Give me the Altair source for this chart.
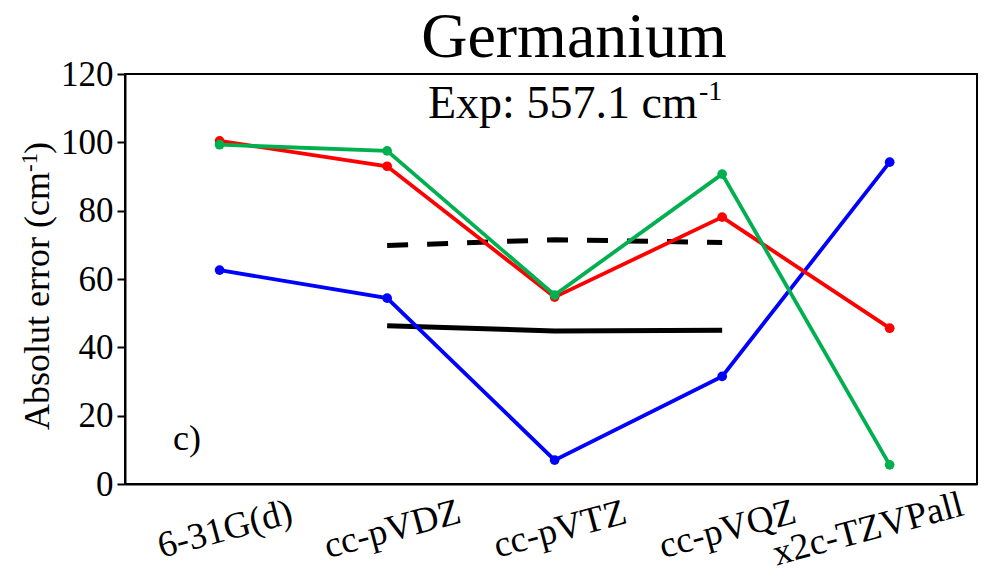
import altair as alt
import pandas as pd

categories = ["6-31G(d)", "cc-pVDZ", "cc-pVTZ", "cc-pVQZ", "x2c-TZVPall"]
red_vals = [100.4, 93.0, 54.7, 78.1, 45.6]
green_vals = [99.3, 97.5, 55.3, 90.7, 5.6]
blue_vals = [62.6, 54.4, 7.0, 31.5, 94.2]
dashed_vals = [None, 69.8, 71.5, 70.7, None]
solid_vals = [None, 46.3, 44.8, 45.0, None]
y_ticks = [0, 20, 40, 60, 80, 100, 120]

series_names = ["Blue", "Red", "Green"]
series_colors = ["#0000FF", "#FF0000", "#00B050"]

rows = []
for name, vals in zip(series_names, [blue_vals, red_vals, green_vals]):
    for c, v in zip(categories, vals):
        rows.append({"basis": c, "series": name, "error": v})
df = pd.DataFrame(rows)

ref_rows = []
for name, vals in [("dashed", dashed_vals), ("solid", solid_vals)]:
    for c, v in zip(categories, vals):
        if v is not None:
            ref_rows.append({"basis": c, "kind": name, "error": v})
ref_df = pd.DataFrame(ref_rows)

FONT = "Liberation Serif"

x_enc = alt.X(
    "basis:N",
    sort=categories,
    scale=alt.Scale(type="point", padding=0.543, align=0.52),
    axis=alt.Axis(
        title=None,
        ticks=False,
        labelAngle=345,
        labelAlign="center",
        labelBaseline="middle",
        labelPadding=45,
        labelFontSize=37,
        labelLimit=400,
        labelOffset={"condition": {"test": "datum.value == 'x2c-TZVPall'", "value": -22}, "value": 5},
        domainColor="black",
        domainWidth=2,
        labelColor="black",
    ),
)
y_enc = alt.Y(
    "error:Q",
    scale=alt.Scale(domain=[0, 120], nice=False),
    axis=alt.Axis(
        title=None,
        values=y_ticks,
        grid=False,
        tickSize=8,
        tickWidth=2,
        tickColor="black",
        domainColor="black",
        domainWidth=2,
        labelFontSize=35,
        labelPadding=4,
        labelColor="black",
    ),
)

ref_base = alt.Chart(ref_df)
dashed = ref_base.transform_filter("datum.kind == 'dashed'").mark_line(
    color="black", strokeWidth=5, strokeDash=[21, 19]
).encode(x=x_enc, y=y_enc)
solid = ref_base.transform_filter("datum.kind == 'solid'").mark_line(
    color="black", strokeWidth=5
).encode(x=x_enc, y=y_enc)

base = alt.Chart(df)
layers = [dashed, solid]
for name, col in zip(series_names, series_colors):
    sub = base.transform_filter(f"datum.series == '{name}'")
    layers.append(sub.mark_line(strokeWidth=3.8, color=col).encode(x=x_enc, y=y_enc))
    layers.append(sub.mark_circle(size=95, opacity=1, color=col).encode(x=x_enc, y=y_enc))

def txt(text, x, y, size, align="left", baseline="alphabetic", angle=0):
    kw = dict(text=text, fontSize=size, font=FONT, color="black", align=align, baseline=baseline)
    if angle:
        kw["angle"] = angle
    return alt.Chart(pd.DataFrame({"t": [text]})).mark_text(**kw).encode(
        x=alt.value(x), y=alt.value(y)
    )

annotations = [
    txt("Germanium", 449, -17, 64, align="center"),
    txt("Exp: 557.1 cm", 303, 44, 46),
    txt("-1", 574, 26, 28),
    txt("c)", 48, 376, 36),
    txt("Absolut error (cm", -76, 356, 36, angle=270),
    txt("-1", -88, 98, 23, angle=270),
    txt(")", -76, 80, 36, angle=270),
]

chart = alt.layer(*layers, *annotations).properties(
    width=852,
    height=410,
    autosize=alt.AutoSizeParams(type="none"),
    padding={"left": 125, "top": 74, "right": 8, "bottom": 89},
    background="white",
).configure_view(
    stroke="black", strokeWidth=2
).configure_axis(
    labelFont=FONT
).configure_text(font=FONT)

chart.save("out.html", embed_options={"renderer": "svg", "actions": False})
